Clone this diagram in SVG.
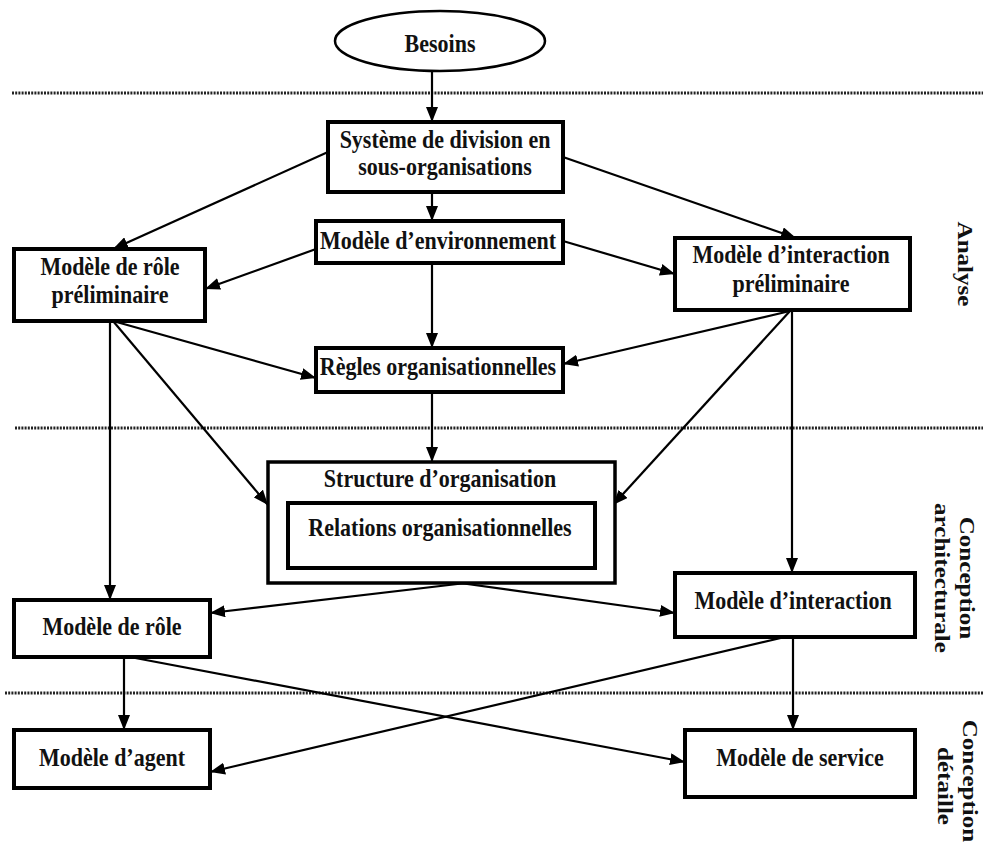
<svg xmlns="http://www.w3.org/2000/svg" width="983" height="845" viewBox="0 0 983 845">
  <style>
    .box { fill: #fff; stroke: #000; stroke-width: 4; }
    .oval { fill: #fff; stroke: #000; stroke-width: 2.5; }
    .lbl { font-family: "Liberation Serif", "Times New Roman", serif; font-weight: bold; font-size: 22px; fill: #111; text-anchor: middle; }
    .phase { font-family: "Liberation Serif", "Times New Roman", serif; font-weight: bold; font-size: 22px; fill: #111; text-anchor: middle; }
    .sep { stroke: #222; stroke-width: 3; stroke-dasharray: 2 1.2; fill: none; }
    .edge { stroke: #000; stroke-width: 2.2; fill: none; marker-end: url(#arrow); }
  </style>
  <defs>
    <marker id="arrow" markerUnits="userSpaceOnUse" markerWidth="16" markerHeight="12" refX="15" refY="6" orient="auto">
      <path d="M0,0 L15,6 L0,12 Z" fill="#000"/>
    </marker>
  </defs>
  <rect width="983" height="845" fill="#fff"/>

  <!-- phase separators -->
  <g id="separators">
    <line class="sep" x1="12" y1="93" x2="983" y2="93"/>
    <line class="sep" x1="15" y1="428" x2="983" y2="428"/>
    <line class="sep" x1="5" y1="693" x2="983" y2="693"/>
  </g>

  <!-- phase labels -->
  <g id="phases">
    <text class="phase" transform="translate(958,264) scale(1,1.14) rotate(90)">Analyse</text>
    <text class="phase" transform="translate(960,578) scale(1,1.14) rotate(90)">Conception</text>
    <text class="phase" transform="translate(935,578) scale(1,1.14) rotate(90)">architecturale</text>
    <text class="phase" transform="translate(963,781) scale(1,1.14) rotate(90)">Conception</text>
    <text class="phase" transform="translate(938,786) scale(1,1.14) rotate(90)">détaille</text>
  </g>

  <!-- connectors -->
  <g id="connectors">
    <path class="edge" d="M432,71 L432,122"/>
    <path class="edge" d="M432,192 L432,221"/>
    <path class="edge" d="M328,152 L113,249"/>
    <path class="edge" d="M563,157 L796,238"/>
    <path class="edge" d="M316,249 L205,289"/>
    <path class="edge" d="M563,241 L675,274"/>
    <path class="edge" d="M432,263 L432,348"/>
    <path class="edge" d="M113,321 L316,378"/>
    <path class="edge" d="M110,321 L110,600"/>
    <path class="edge" d="M113,321 L268,505"/>
    <path class="edge" d="M790,311 L563,364"/>
    <path class="edge" d="M790,311 L613,505"/>
    <path class="edge" d="M792,311 L792,573"/>
    <path class="edge" d="M432,392 L432,462"/>
    <path class="edge" d="M466,583 L210,613"/>
    <path class="edge" d="M460,583 L675,613"/>
    <path class="edge" d="M124,657 L124,730"/>
    <path class="edge" d="M130,657 L685,762"/>
    <path class="edge" d="M785,637 L210,772"/>
    <path class="edge" d="M793,637 L793,730"/>
  </g>

  <!-- nodes -->
  <g id="besoins">
    <ellipse class="oval" cx="440" cy="41" rx="105" ry="30"/>
    <text class="lbl" transform="translate(440,52) scale(1,1.14)">Besoins</text>
  </g>

  <g id="systeme-division">
    <rect class="box" x="328" y="122" width="235" height="70"/>
    <text class="lbl" transform="translate(445,148) scale(1,1.14)">Système de division en</text>
    <text class="lbl" transform="translate(445,175) scale(1,1.14)">sous-organisations</text>
  </g>

  <g id="modele-environnement">
    <rect class="box" x="316" y="221" width="247" height="42"/>
    <text class="lbl" transform="translate(438,249) scale(1,1.14)">Modèle d’environnement</text>
  </g>

  <g id="modele-role-preliminaire">
    <rect class="box" x="14" y="249" width="191" height="72"/>
    <text class="lbl" transform="translate(110,275) scale(1,1.14)">Modèle de rôle</text>
    <text class="lbl" transform="translate(110,303) scale(1,1.14)">préliminaire</text>
  </g>

  <g id="modele-interaction-preliminaire">
    <rect class="box" x="675" y="238" width="235" height="72"/>
    <text class="lbl" transform="translate(791,263) scale(1,1.14)">Modèle d’interaction</text>
    <text class="lbl" transform="translate(791,292) scale(1,1.14)">préliminaire</text>
  </g>

  <g id="regles-organisationnelles">
    <rect class="box" x="316" y="348" width="247" height="44"/>
    <text class="lbl" transform="translate(438,375) scale(1,1.14)">Règles organisationnelles</text>
  </g>

  <g id="structure-organisation">
    <rect class="box" x="268" y="462" width="347" height="121" style="stroke-width:3.5"/>
    <text class="lbl" transform="translate(440,487) scale(1,1.14)">Structure d’organisation</text>
    <g id="relations-organisationnelles">
      <rect class="box" x="288" y="503" width="307" height="65"/>
      <text class="lbl" transform="translate(440,536) scale(1,1.14)">Relations organisationnelles</text>
    </g>
  </g>

  <g id="modele-role">
    <rect class="box" x="14" y="600" width="196" height="57"/>
    <text class="lbl" transform="translate(112,635) scale(1,1.14)">Modèle de rôle</text>
  </g>

  <g id="modele-interaction">
    <rect class="box" x="675" y="573" width="240" height="64"/>
    <text class="lbl" transform="translate(793,609) scale(1,1.14)">Modèle d’interaction</text>
  </g>

  <g id="modele-agent">
    <rect class="box" x="14" y="730" width="196" height="58"/>
    <text class="lbl" transform="translate(112,766) scale(1,1.14)">Modèle d’agent</text>
  </g>

  <g id="modele-service">
    <rect class="box" x="685" y="730" width="230" height="67"/>
    <text class="lbl" transform="translate(800,766) scale(1,1.14)">Modèle de service</text>
  </g>
</svg>
